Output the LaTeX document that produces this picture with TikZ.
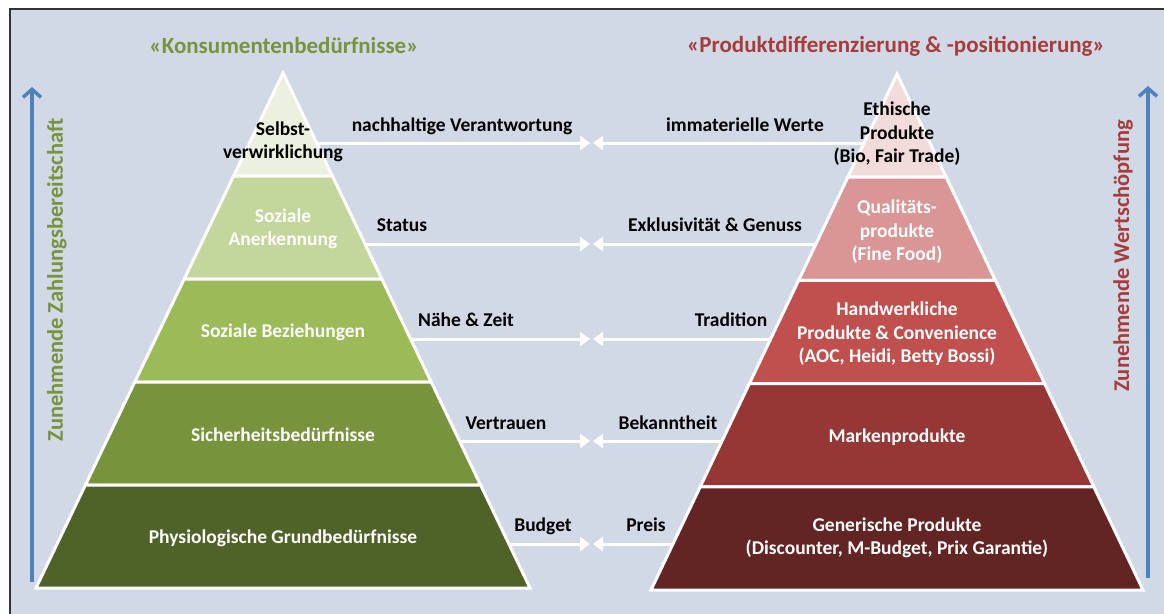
\documentclass[tikz,border=0pt]{standalone}
\usepackage{fontspec}
\setmainfont{Carlito}
\usetikzlibrary{arrows.meta}
\definecolor{bg}{HTML}{D1D9E7}
\definecolor{LA}{HTML}{EBF1DE}
\definecolor{LB}{HTML}{C3D69B}
\definecolor{LC}{HTML}{9BBB59}
\definecolor{LD}{HTML}{77933C}
\definecolor{LE}{HTML}{4F6228}
\definecolor{RA}{HTML}{F2DCDB}
\definecolor{RB}{HTML}{D99694}
\definecolor{RC}{HTML}{C0504D}
\definecolor{RD}{HTML}{953735}
\definecolor{RE}{HTML}{632523}
\definecolor{tgreen}{HTML}{77933C}
\definecolor{tred}{HTML}{A83C3A}
\definecolor{arrowblue}{HTML}{4F81BD}
\tikzset{
  layer/.style={draw=white, line width=3pt, line join=miter},
  wlab/.style={text=white, align=center, font=\bfseries\fontsize{19.5}{23.5}\selectfont},
  blab/.style={text=black, align=center, font=\bfseries\fontsize{19.5}{23.5}\selectfont},
  mlab/.style={text=black, anchor=base, font=\bfseries\fontsize{19.5}{23.5}\selectfont},
  title/.style={font=\bfseries\fontsize{23}{27}\selectfont},
  side/.style={rotate=90, font=\bfseries\fontsize{22.5}{26}\selectfont},
  conn/.style={draw=white, line width=3pt, -{Triangle[length=10pt,width=14pt]}},
  blue arrow/.style={draw=arrowblue, line width=3.5pt, -{Straight Barb[length=8pt,width=18pt]}}
}
\begin{document}
\begin{tikzpicture}[x=1pt,y=-1pt]
\useasboundingbox (0,0) rectangle (1164,613);
\fill[white] (0,0) rectangle (1164,613);
\draw[fill=bg, draw=black!80, line width=1.5pt] (10,9) rectangle (1180,630);

% left pyramid
\foreach \i/\c in {0/LA,1/LB,2/LC,3/LD,4/LE} {
  \pgfmathsetmacro\ya{73+103*\i}
  \pgfmathsetmacro\yb{73+103*(\i+1)}
  \pgfmathsetmacro\wa{0.4796*103*\i}
  \pgfmathsetmacro\wb{0.4796*103*(\i+1)}
  \filldraw[layer, fill=\c] (283-\wa,\ya) -- (283+\wa,\ya) -- (283+\wb,\yb) -- (283-\wb,\yb) -- cycle;
}
% right pyramid
\foreach \i/\c in {0/RA,1/RB,2/RC,3/RD,4/RE} {
  \pgfmathsetmacro\ya{74+103.2*\i}
  \pgfmathsetmacro\yb{74+103.2*(\i+1)}
  \pgfmathsetmacro\wa{0.4767*103.2*\i}
  \pgfmathsetmacro\wb{0.4767*103.2*(\i+1)}
  \filldraw[layer, fill=\c] (897-\wa,\ya) -- (897+\wa,\ya) -- (897+\wb,\yb) -- (897-\wb,\yb) -- cycle;
}

% pyramid labels
\node[blab] (l1) at (283,142) {Selbst-\\verwirklichung};
\node[wlab] (l2) at (283,229) {Soziale\\Anerkennung};
\node[wlab] (l3) at (283,332) {Soziale Beziehungen};
\node[wlab] (l4) at (283,435) {Sicherheitsbedürfnisse};
\node[wlab] (l5) at (283,538) {Physiologische Grundbedürfnisse};

\node[blab] (r1) at (897,134) {Ethische\\Produkte\\(Bio, Fair Trade)};
\node[wlab] (r2) at (897,232) {Qualitäts-\\produkte\\(Fine Food)};
\node[wlab] (r3) at (897,334) {Handwerkliche\\Produkte \& Convenience\\(AOC, Heidi, Betty Bossi)};
\node[wlab] (r4) at (897,437) {Markenprodukte};
\node[wlab] (r5) at (897,538) {Generische Produkte\\(Discounter, M-Budget, Prix Garantie)};

% connector end points
\coordinate (el1) at (316.6,143);
\coordinate (el2) at (365.0,244);
\coordinate (el3) at (410.6,339);
\coordinate (el4) at (459.5,441);
\coordinate (el5) at (508.9,544);
\coordinate (er1) at (864.1,143);
\coordinate (er2) at (816.0,244);
\coordinate (er3) at (770.7,339);
\coordinate (er4) at (722.1,441);
\coordinate (er5) at (673.0,544);
\coordinate (ml1) at (590,143);
\coordinate (ml2) at (590,244);
\coordinate (ml3) at (590,339);
\coordinate (ml4) at (590,441);
\coordinate (ml5) at (590,544);
\coordinate (mr1) at (593,143);
\coordinate (mr2) at (593,244);
\coordinate (mr3) at (593,339);
\coordinate (mr4) at (593,441);
\coordinate (mr5) at (593,544);
\foreach \k in {1,...,5} {
  \draw[conn] (el\k) -- (ml\k);
  \draw[conn] (er\k) -- (mr\k);
}

% connector labels
\node[mlab] (c1l) at (462,131) {nachhaltige Verantwortung};
\node[mlab] (c1r) at (745,131) {immaterielle Werte};
\node[mlab] (c2l) at (402,231) {Status};
\node[mlab] (c2r) at (715,231) {Exklusivität \& Genuss};
\node[mlab] (c3l) at (466,326) {Nähe \& Zeit};
\node[mlab] (c3r) at (731,326) {Tradition};
\node[mlab] (c4l) at (506,429) {Vertrauen};
\node[mlab] (c4r) at (668,429) {Bekanntheit};
\node[mlab] (c5l) at (543,531) {Budget};
\node[mlab] (c5r) at (646,531) {Preis};

% titles
\node[title, text=tgreen] (tl) at (284,46) {«Konsumentenbedürfnisse»};
\node[title, text=tred] (tr) at (896,46) {«Produktdifferenzierung \& -positionierung»};

% side arrows and labels
\coordinate (bl0) at (32,582);
\coordinate (bl1) at (32,87);
\coordinate (br0) at (1148,578);
\coordinate (br1) at (1148,86);
\draw[blue arrow] (bl0) -- (bl1);
\draw[blue arrow] (br0) -- (br1);
\node[side, text=tgreen] (sl) at (57,280) {Zunehmende Zahlungsbereitschaft};
\node[side, text=tred] (sr) at (1123,256) {Zunehmende Wertschöpfung};
\end{tikzpicture}
\end{document}
